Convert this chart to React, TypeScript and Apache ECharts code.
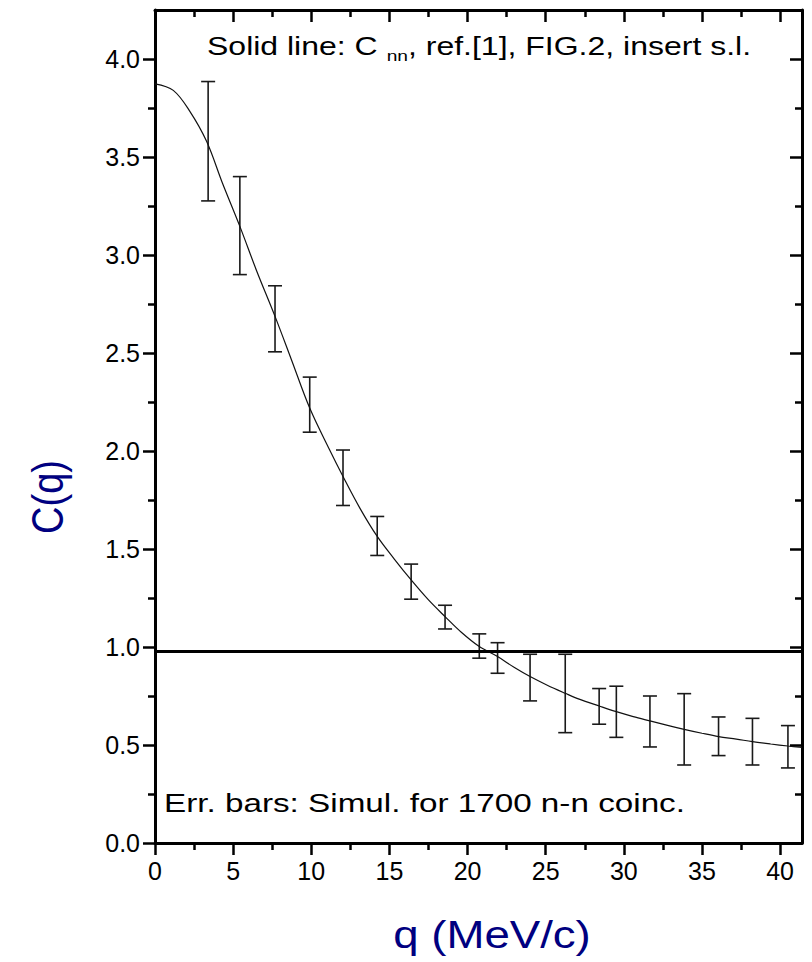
import React, { useEffect, useRef } from "react";
import * as echarts from "echarts";

// ---- data ----
const qErr = [3.40, 5.43, 7.68, 9.90, 12.03, 14.22, 16.39, 18.56, 20.75, 21.92, 24.00, 26.25, 28.42, 29.52, 31.67, 33.86, 36.06, 38.23, 40.50];
const errLow = [3.276, 2.900, 2.506, 2.096, 1.722, 1.467, 1.244, 1.092, 0.943, 0.866, 0.725, 0.563, 0.606, 0.539, 0.490, 0.398, 0.446, 0.398, 0.383];
const errHigh = [3.885, 3.400, 2.843, 2.377, 2.005, 1.666, 1.423, 1.213, 1.067, 1.022, 0.963, 0.963, 0.788, 0.800, 0.750, 0.762, 0.643, 0.636, 0.599];

const qCurve = [0, 1.17, 2.23, 3.30, 4.3, 5.43, 6.5, 7.68, 8.73, 9.9, 11.17, 12.03, 13.1, 14.22, 15.3, 16.39, 17.5, 18.56, 19.6, 20.75, 21.92, 23.0, 24.0, 25.1, 26.25, 27.14, 28.42, 29.52, 30.6, 31.67, 32.8, 33.86, 35.0, 36.06, 37.2, 38.23, 39.4, 40.5, 41.4];
const cCurve = [3.873, 3.840, 3.733, 3.580, 3.370, 3.146, 2.920, 2.687, 2.466, 2.219, 2.006, 1.870, 1.710, 1.564, 1.450, 1.342, 1.240, 1.155, 1.075, 1.002, 0.951, 0.895, 0.849, 0.805, 0.764, 0.734, 0.699, 0.670, 0.645, 0.623, 0.600, 0.580, 0.560, 0.543, 0.530, 0.517, 0.505, 0.495, 0.488];

const refLevel = 0.98;

// tick layout (labelled range of the axes)
const xTickMax = 40;
const xTickStep = 5;
const yTickMax = 4.0;
const yTickStep = 0.5;

const xTitle = "q (MeV/c)";
const yTitle = "C(q)";
const noteTopA = "Solid line: C ";
const noteTopSub = "nn";
const noteTopB = ", ref.[1], FIG.2, insert s.l.";
const noteBottom = "Err. bars: Simul. for 1700 n-n coinc.";

const X_MIN = 0, X_MAX = 41.4, Y_MIN = 0, Y_MAX = 4.25;
const FONT = "'Liberation Sans', Arial, Helvetica, sans-serif";
const NAVY = "#000080";

const W = 812, H = 962;
const G_LEFT = 155, G_TOP = 10, G_RIGHT = 10, G_BOTTOM = 119;

export default function App() {
  const ref = useRef<HTMLDivElement>(null);
  useEffect(() => {
    if (!ref.current) return;
    const chart = echarts.init(ref.current, null, { renderer: "svg" });
    const line = { color: "#000", width: 3 };
    const tickLine = { color: "#000", width: 2.5 };
    const hidden = { show: false };
    const noLine = { show: false, onZero: false };

    // second grid covering exactly the labelled range, sharing the same scale
    const gw = W - G_LEFT - G_RIGHT;
    const gh = H - G_TOP - G_BOTTOM;
    const tickRightPx = G_LEFT + (gw * (xTickMax - X_MIN)) / (X_MAX - X_MIN);
    const tickTopPx = H - G_BOTTOM - (gh * (yTickMax - Y_MIN)) / (Y_MAX - Y_MIN);
    const g1Right = W - tickRightPx;
    const offTop = tickTopPx - G_TOP;
    const offRight = (W - G_RIGHT) - tickRightPx;

    const errData = qErr.map((q, i) => [q, errLow[i], errHigh[i]]);
    const curveData = qCurve.map((q, i) => [q, cCurve[i]]);

    const xTickAxis = (position: string, inside: boolean, offset: number, labels: boolean) => ({
      type: "value", gridIndex: 1, min: X_MIN, max: xTickMax, interval: xTickStep, position, offset,
      axisLine: noLine,
      axisTick: { show: true, inside, length: 12, lineStyle: tickLine },
      minorTick: { show: true, splitNumber: 2, length: 7, lineStyle: tickLine },
      splitLine: hidden, minorSplitLine: hidden,
      axisLabel: labels
        ? { show: true, fontSize: 25, margin: 15, color: "#000", fontFamily: FONT }
        : hidden,
    });
    const yTickAxis = (position: string, inside: boolean, offset: number, labels: boolean) => ({
      type: "value", gridIndex: 1, min: Y_MIN, max: yTickMax, interval: yTickStep, position, offset,
      axisLine: noLine,
      axisTick: { show: true, inside, length: 12, lineStyle: tickLine },
      minorTick: { show: true, splitNumber: 2, length: 7, lineStyle: tickLine },
      splitLine: hidden, minorSplitLine: hidden,
      axisLabel: labels
        ? { show: true, fontSize: 25, margin: 15, color: "#000", fontFamily: FONT, formatter: (v: number) => v.toFixed(1) }
        : hidden,
    });

    chart.setOption({
      animation: false,
      backgroundColor: "#fff",
      grid: [
        { left: G_LEFT, top: G_TOP, right: G_RIGHT, bottom: G_BOTTOM, containLabel: false },
        { left: G_LEFT, top: tickTopPx, right: g1Right, bottom: G_BOTTOM, containLabel: false },
      ],
      xAxis: [
        {
          type: "value", gridIndex: 0, min: X_MIN, max: X_MAX, position: "bottom",
          axisLine: { show: true, onZero: false, lineStyle: line },
          axisTick: hidden, axisLabel: hidden, splitLine: hidden,
        },
        {
          type: "value", gridIndex: 0, min: X_MIN, max: X_MAX, position: "top",
          axisLine: { show: true, onZero: false, lineStyle: line },
          axisTick: hidden, axisLabel: hidden, splitLine: hidden,
        },
        xTickAxis("bottom", false, 0, true),
        xTickAxis("top", true, offTop, false),
      ],
      yAxis: [
        {
          type: "value", gridIndex: 0, min: Y_MIN, max: Y_MAX, position: "left",
          axisLine: { show: true, onZero: false, lineStyle: line },
          axisTick: hidden, axisLabel: hidden, splitLine: hidden,
        },
        {
          type: "value", gridIndex: 0, min: Y_MIN, max: Y_MAX, position: "right",
          axisLine: { show: true, onZero: false, lineStyle: line },
          axisTick: hidden, axisLabel: hidden, splitLine: hidden,
        },
        yTickAxis("left", false, 0, true),
        yTickAxis("right", true, offRight, false),
      ],
      series: [
        {
          type: "line",
          name: "C_nn",
          xAxisIndex: 0,
          yAxisIndex: 0,
          data: curveData,
          smooth: 0.35,
          showSymbol: false,
          symbol: "none",
          lineStyle: { color: "#111", width: 1.2 },
          silent: true,
          markLine: {
            silent: true,
            symbol: ["none", "none"],
            label: { show: false },
            lineStyle: { color: "#000", width: 3, type: "solid" },
            data: [{ yAxis: refLevel }],
          },
        },
        {
          type: "custom",
          name: "errors",
          xAxisIndex: 0,
          yAxisIndex: 0,
          data: errData,
          encode: { x: 0, y: [1, 2] },
          silent: true,
          renderItem: (params: any, api: any) => {
            const x = api.value(0);
            const pLo = api.coord([x, api.value(1)]);
            const pHi = api.coord([x, api.value(2)]);
            const w = 7;
            const style = { stroke: "#1a1a1a", lineWidth: 1.6, fill: "none" };
            return {
              type: "group",
              children: [
                { type: "line", shape: { x1: pLo[0], y1: pLo[1], x2: pHi[0], y2: pHi[1] }, style },
                { type: "line", shape: { x1: pHi[0] - w, y1: pHi[1], x2: pHi[0] + w, y2: pHi[1] }, style },
                { type: "line", shape: { x1: pLo[0] - w, y1: pLo[1], x2: pLo[0] + w, y2: pLo[1] }, style },
              ],
            };
          },
        },
      ],
      graphic: [
        {
          type: "text",
          x: 207,
          y: 46,
          scaleX: 1.28,
          style: {
            text: `{a|${noteTopA}}{s|${noteTopSub}}{a|${noteTopB}}`,
            textAlign: "left",
            textVerticalAlign: "middle",
            fill: "#000",
            rich: {
              a: { fontSize: 25, fontFamily: FONT, fill: "#000", lineHeight: 34, verticalAlign: "middle" },
              s: { fontSize: 15, fontFamily: FONT, fill: "#000", lineHeight: 15, verticalAlign: "bottom" },
            },
          },
        },
        {
          type: "text",
          x: 164,
          y: 803,
          scaleX: 1.33,
          style: {
            text: noteBottom,
            fontSize: 25,
            fontFamily: FONT,
            fill: "#000",
            textAlign: "left",
            textVerticalAlign: "middle",
          },
        },
        {
          type: "text",
          x: 492,
          y: 935,
          scaleX: 1.2,
          style: {
            text: xTitle,
            fontSize: 38,
            fontFamily: FONT,
            fill: NAVY,
            textAlign: "center",
            textVerticalAlign: "middle",
          },
        },
        {
          type: "text",
          x: 48,
          y: 497,
          rotation: Math.PI / 2,
          scaleY: 1.15,
          style: {
            text: yTitle,
            fontSize: 38,
            fontFamily: FONT,
            fill: NAVY,
            textAlign: "center",
            textVerticalAlign: "middle",
          },
        },
      ],
    });
    return () => chart.dispose();
  }, []);
  return (
    <div
      ref={ref}
      style={{ position: "fixed", left: 0, top: 0, width: W, height: H, background: "#fff" }}
    />
  );
}
